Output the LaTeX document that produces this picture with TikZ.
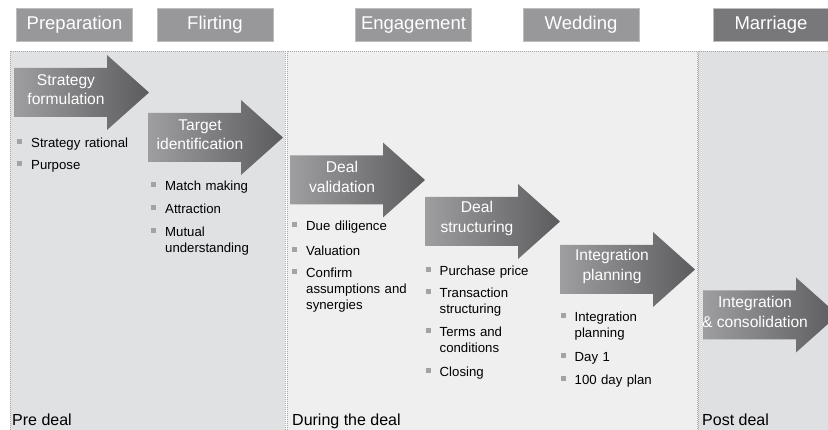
\documentclass[tikz,border=0pt]{standalone}
\usepackage{fontspec}
\setmainfont{Liberation Sans}
\definecolor{preC}{HTML}{E0E1E3}
\definecolor{durC}{HTML}{EFEFEF}
\definecolor{postC}{HTML}{DFE0E2}
\definecolor{hdrC}{HTML}{98989B}
\definecolor{hdrD}{HTML}{78787B}
\definecolor{hdrB}{HTML}{BDBDBF}
\definecolor{arrL}{HTML}{9E9EA1}
\definecolor{arrR}{HTML}{5C5C5F}
\definecolor{bulC}{HTML}{A3A3A5}
\definecolor{edgeC}{HTML}{A8A8AA}
\tikzset{
  panel/.style={draw=edgeC, line width=0.6pt, dash pattern=on 1pt off 1pt},
  hdr/.style={draw=hdrB, line width=0.8pt, fill=hdrC, text=white, minimum width=116pt, minimum height=33pt, inner sep=0pt, text height=13.5pt, text depth=4pt, font=\fontsize{18.5}{22}\selectfont},
  arrtext/.style={text=white, align=center, inner sep=0pt, font=\fontsize{15.6}{19.5}\selectfont},
  item/.style={anchor=base west, text width=150pt, align=left, inner sep=0pt, font=\fontsize{13.2}{16}\selectfont},
  phase/.style={anchor=base west, inner sep=0pt, font=\fontsize{16}{19}\selectfont}
}
\newcommand\dealarrow[4]{%
  \shade[left color=arrL, right color=arrR] (#1,#2-24.5) -- ++(93,0) -- ++(0,-13) -- (#1+135,#2) -- (#1+93,#2+37.5) -- ++(0,-13) -- (#1,#2+24.5) -- cycle;
  \node[arrtext] (#3) at (#1+52,#2-3) {#4};
}
\newcommand\bul[4]{%
  \fill[bulC] (#1-2.5,#2-8.8) rectangle ++(5,5);
  \node[item] (#3) at (#1+11.5,#2) {#4};
}
\begin{document}
\begin{tikzpicture}[x=1pt,y=-1pt]
\useasboundingbox (0,0) rectangle (828,430);
\clip (0,0) rectangle (828,430);
\fill[white] (0,0) rectangle (828,430);
% panels
\draw[panel, fill=preC] (10,51) rectangle (285,440);
\draw[panel, fill=durC] (287,51) rectangle (697,440);
\draw[panel, fill=postC] (698,51) rectangle (840,440);
% headers
\node[hdr] (hprep) at (74.5,24.5) {Preparation};
\node[hdr] (hflirt) at (215,24.5) {Flirting};
\node[hdr] (heng) at (413.5,24.5) {Engagement};
\node[hdr] (hwed) at (581,24.5) {Wedding};
\node[hdr, fill=hdrD] (hmar) at (771,24.5) {Marriage};
% arrows
\dealarrow{14}{92.5}{a1}{Strategy\\formulation}
\dealarrow{148}{137.5}{a2}{Target\\identification}
\dealarrow{290}{180}{a3}{Deal\\validation}
\dealarrow{425}{221.5}{a4}{Deal\\structuring}
\dealarrow{560}{269.5}{a5}{Integration\\planning}
\dealarrow{703}{315}{a6}{Integration\\\&~consolidation}
% bullets
\bul{19.5}{147.5}{b11}{Strategy rational}
\bul{19.5}{169.5}{b12}{Purpose}
\bul{153.5}{190.5}{b21}{Match making}
\bul{153.5}{213.5}{b22}{Attraction}
\bul{153.5}{236.5}{b23}{Mutual\\understanding}
\bul{294.5}{231}{b31}{Due diligence}
\bul{294.5}{255.5}{b32}{Valuation}
\bul{294.5}{277.5}{b33}{Confirm\\assumptions and\\synergies}
\bul{428}{276}{b41}{Purchase price}
\bul{428}{297.5}{b42}{Transaction\\structuring}
\bul{428}{337}{b43}{Terms and\\conditions}
\bul{428}{377}{b44}{Closing}
\bul{563}{322}{b51}{Integration\\planning}
\bul{563}{361.5}{b52}{Day 1}
\bul{563}{385}{b53}{100 day plan}
% phase labels
\node[phase] (pre) at (12,425) {Pre deal};
\node[phase] (during) at (292,425) {During the deal};
\node[phase] (post) at (702,425) {Post deal};
\end{tikzpicture}
\end{document}
